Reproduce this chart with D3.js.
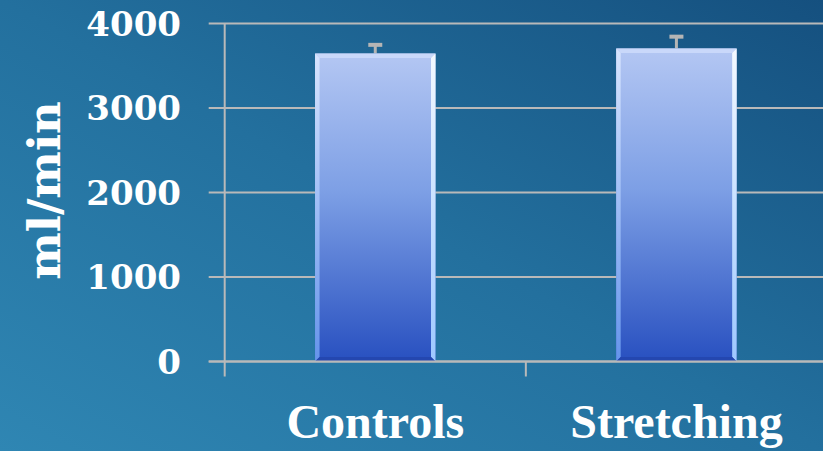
<!DOCTYPE html>
<html>
<head>
<meta charset="utf-8">
<script src="https://cdn.jsdelivr.net/npm/d3@7"></script>
<style>
  html, body { margin: 0; padding: 0; overflow: hidden; background: #1f6a96; }
  svg { display: block; }
</style>
</head>
<body>
<svg id="chart" width="823" height="451"></svg>
<script>
// Cardiac output by group (ml/min) with upper error bars
const categories = ["Controls", "Stretching"];
const means = [3645, 3705];
const errorTops = [3765, 3862];
const yTicks = [0, 1000, 2000, 3000, 4000];
const yTitle = "ml/min";

const W = 823, H = 451;
const svg = d3.select("#chart");
const defs = svg.append("defs");

// Slide-style background
const bg = defs.append("linearGradient").attr("id", "bg")
  .attr("x1", "0%").attr("y1", "100%").attr("x2", "100%").attr("y2", "0%");
bg.append("stop").attr("offset", "0%").attr("stop-color", "#2f86b3");
bg.append("stop").attr("offset", "50%").attr("stop-color", "#23709e");
bg.append("stop").attr("offset", "100%").attr("stop-color", "#15507f");
svg.append("rect").attr("width", W).attr("height", H).attr("fill", "url(#bg)");

// Bar fill
const barGrad = defs.append("linearGradient").attr("id", "barFill")
  .attr("x1", 0).attr("y1", 0).attr("x2", 0).attr("y2", 1);
barGrad.append("stop").attr("offset", "0%").attr("stop-color", "#b4c7f3");
barGrad.append("stop").attr("offset", "45%").attr("stop-color", "#7d9fe5");
barGrad.append("stop").attr("offset", "100%").attr("stop-color", "#2850c0");

const leftEdge = defs.append("linearGradient").attr("id", "leftEdge")
  .attr("x1", 0).attr("y1", 0).attr("x2", 0).attr("y2", 1);
leftEdge.append("stop").attr("offset", "0%").attr("stop-color", "#dbe7ff");
leftEdge.append("stop").attr("offset", "100%").attr("stop-color", "#6c9cf0");

const rightEdge = defs.append("linearGradient").attr("id", "rightEdge")
  .attr("x1", 0).attr("y1", 0).attr("x2", 0).attr("y2", 1);
rightEdge.append("stop").attr("offset", "0%").attr("stop-color", "#f4f9ff");
rightEdge.append("stop").attr("offset", "100%").attr("stop-color", "#9ec8ff");

const x = d3.scaleBand().domain(categories)
  .range([224.7, 827]).paddingInner(0.6).paddingOuter(0.3);
const y = d3.scaleLinear().domain([0, 4000]).range([361.5, 23.5]);

const gridColor = "#b9b9b9";
const axisLeft = x.range()[0];

// Horizontal gridlines with outward ticks
svg.append("g").selectAll("line").data(yTicks).join("line")
  .attr("x1", axisLeft - 16).attr("x2", W + 5)
  .attr("y1", d => y(d)).attr("y2", d => y(d))
  .attr("stroke", gridColor).attr("stroke-width", 2);

// Vertical axis line
svg.append("line")
  .attr("x1", axisLeft).attr("x2", axisLeft)
  .attr("y1", y(4000)).attr("y2", y(0) + 15)
  .attr("stroke", gridColor).attr("stroke-width", 2);

// Category separator ticks below the baseline
const step = x.step();
const sepX = d3.range(categories.length + 1).map(i => axisLeft + i * step);
svg.append("g").selectAll("line").data(sepX.slice(1)).join("line")
  .attr("x1", d => d).attr("x2", d => d)
  .attr("y1", y(0)).attr("y2", y(0) + 15)
  .attr("stroke", gridColor).attr("stroke-width", 2);

// Error bars (drawn first, bars cover the lower stem)
const eb = svg.append("g");
categories.forEach((c, i) => {
  const cx = x(c) + x.bandwidth() / 2;
  eb.append("line").attr("x1", cx).attr("x2", cx)
    .attr("y1", y(errorTops[i])).attr("y2", y(means[i]))
    .attr("stroke", "#b5b5b5").attr("stroke-width", 3);
  eb.append("line").attr("x1", cx - 7).attr("x2", cx + 7)
    .attr("y1", y(errorTops[i]) + 1.5).attr("y2", y(errorTops[i]) + 1.5)
    .attr("stroke", "#b5b5b5").attr("stroke-width", 4);
});

// Bevelled bars
const bars = svg.append("g");
categories.forEach((c, i) => {
  const x0 = x(c), bw = x.bandwidth();
  const yt = y(means[i]), yb = y(0);
  const g = bars.append("g");
  g.append("rect").attr("x", x0).attr("y", yt).attr("width", bw).attr("height", yb - yt)
    .attr("fill", "url(#barFill)");
  const e = 4.5;
  // top bevel
  g.append("polygon")
    .attr("points", [[x0, yt], [x0 + bw, yt], [x0 + bw - e, yt + e], [x0 + e, yt + e]].join(" "))
    .attr("fill", "#c9d8fa");
  // left bevel
  g.append("polygon")
    .attr("points", [[x0, yt], [x0 + e, yt + e], [x0 + e, yb - e], [x0, yb]].join(" "))
    .attr("fill", "url(#leftEdge)").attr("opacity", 0.9);
  // right bevel
  g.append("polygon")
    .attr("points", [[x0 + bw, yt], [x0 + bw, yb], [x0 + bw - e, yb - e], [x0 + bw - e, yt + e]].join(" "))
    .attr("fill", "url(#rightEdge)");
  // bottom bevel
  g.append("polygon")
    .attr("points", [[x0, yb], [x0 + e, yb - e], [x0 + bw - e, yb - e], [x0 + bw, yb]].join(" "))
    .attr("fill", "#2447b0");
});

// Baseline over the bars
svg.append("line")
  .attr("x1", axisLeft - 16).attr("x2", W + 5)
  .attr("y1", y(0)).attr("y2", y(0))
  .attr("stroke", gridColor).attr("stroke-width", 2);

// Y tick labels
svg.append("g").selectAll("text").data(yTicks).join("text")
  .attr("x", 181).attr("y", d => y(d) + 12)
  .attr("text-anchor", "end")
  .attr("font-family", "'DejaVu Serif', serif").attr("font-weight", "bold")
  .attr("font-size", 34).attr("fill", "#ffffff")
  .text(d => d);

// Y title
svg.append("text")
  .attr("transform", `translate(60,${(103 + 278) / 2}) rotate(-90)`)
  .attr("text-anchor", "middle")
  .attr("font-family", "'DejaVu Serif', serif").attr("font-weight", "bold")
  .attr("font-size", 45).attr("fill", "#ffffff")
  .text(yTitle);

// Category labels
svg.append("g").selectAll("text").data(categories).join("text")
  .attr("x", d => x(d) + x.bandwidth() / 2).attr("y", 438)
  .attr("text-anchor", "middle")
  .attr("font-family", "'Liberation Serif', serif").attr("font-weight", "bold")
  .attr("font-size", 48).attr("fill", "#ffffff")
  .text(d => d);
</script>
</body>
</html>
